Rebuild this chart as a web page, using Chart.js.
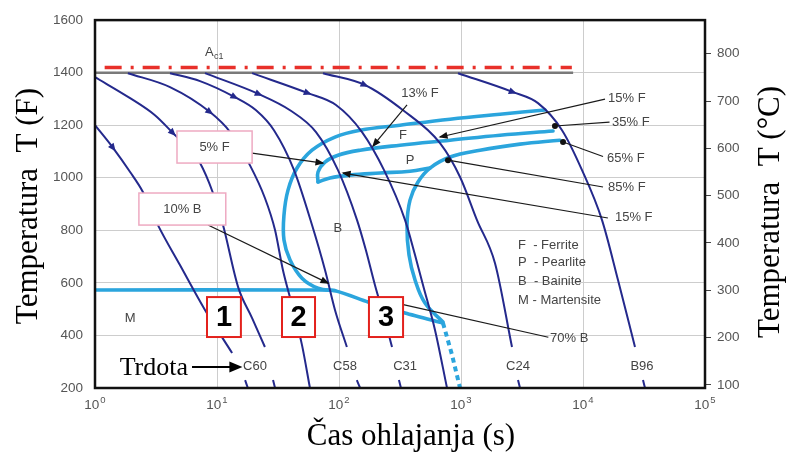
<!DOCTYPE html>
<html><head><meta charset="utf-8">
<script src="https://cdn.jsdelivr.net/npm/chart.js@4.4.1/dist/chart.umd.min.js"></script>
<style>html,body{margin:0;padding:0;background:#fff}</style>
</head><body>
<canvas id="c" width="787" height="452"></canvas>
<script>
// ---------- data (time in s, temperature in °F) ----------
const timeTicks = [1, 10, 100, 1000, 10000, 100000];
const timeTickExp = ['0', '1', '2', '3', '4', '5'];
const tempTicksF = [200, 400, 600, 800, 1000, 1200, 1400, 1600];
const tempTicksC = [100, 200, 300, 400, 500, 600, 700, 800];

// cooling curves (null = gap for hardness label)
const coolA = [[1,1200],[1.41,1113],[1.94,1022],[2.47,946],[3.28,820],[4.97,668],[7.97,497],[13.3,333],[15,null],[17.0,230],[17.9,200]];
const coolB = [[1,1383],[1.94,1303],[3.10,1238],[4.36,1170],[6.0,1105],[7.26,1056],[9.27,942],[11.2,820],[14.9,584],[19.4,466],[24.7,356],[26,null],[28.8,230],[29.9,200]];
const coolC = [[1.86,1398],[4.12,1345],[8.76,1250],[12.8,1174],[18.6,1048],[24.7,923],[29.9,801],[34.7,649],[41.2,516],[49.7,364],[57.8,200]];
const coolD = [[4.12,1398],[7.26,1368],[14.0,1307],[20.9,1257],[29.3,1181],[42.8,1029],[60.1,820],[76.8,649],[92.7,497],[116,356],[125,null],[140,230],[149,200]];
const coolE = [[7.97,1398],[22.1,1318],[39.7,1257],[64.8,1174],[98.1,1029],[140.6,839],[166,725],[197,592],[238,459],[272,356],[290,null],[310,230],[322,200]];
const coolF = [[19.4,1398],[55.7,1322],[94.5,1277],[154.5,1174],[234,1029],[348,839],[420,706],[488,592],[612,421],[768,200]];
const coolG = [[73.9,1398],[163,1353],[335,1257],[673,1132],[982,1003],[1352,839],[1900,675],[2618,356],[2800,null],[2933,230],[3046,200]];
const coolH = [[945,1398],[2668,1326],[4276,1284],[6730,1181],[9817,1029],[14320,839],[19360,611],[26680,356],[28000,null],[31040,230],[32220,200]];

// transformation lines
const ferriteStart = [[4883,1258],[2089,1242],[813,1223],[316,1200],[149,1181],[92.7,1155],[60.1,1105],[45.3,1037],[38.2,953],[35.4,858],[35.4,763],[39.7,687],[49.7,618],[67.3,580],[92.7,571]];
const pearliteStart = [[5680,1178],[2089,1162],[813,1143],[316,1124],[149,1105],[98.1,1086],[76.8,1060],[67.3,1022],[67.3,984]];
const pearliteLower = [[67.3,984],[84.4,999],[123,1010],[217,1018],[382,1025],[557,1037]];
const pearliteFinish = [[6475,1143],[3046,1128],[1432,1105],[813,1079],[557,1037],[444,984],[382,915],[361,820],[375,706],[420,611],[507,523],[712,451]];
const msLine = [[1,573],[60,573],[92.7,570],[173,527],[348,485],[712,447]];
const msDotted = [[712,447],[844,326],[982,200]];
const a1Line = [[1,1400],[8300,1400]];
const ac1Line = [[1.2,1420],[8100,1420]];

// ---------- chart ----------
const SANS = '"Liberation Sans", Arial, sans-serif';
const SERIF = '"Liberation Serif", "Times New Roman", serif';
const NAVY = '#24298c', CYAN = '#2ba5dd';
const toXY = arr => arr.map(([x, y]) => ({x, y}));
const cool = (d, arrowAt) => ({data: toXY(d), borderColor: NAVY, borderWidth: 2, pointRadius: 0, showLine: true, cubicInterpolationMode: 'monotone', spanGaps: false, arrowAt});
const cyan = (d, extra) => Object.assign({data: toXY(d), borderColor: CYAN, borderWidth: 3.6, pointRadius: 0, showLine: true, tension: 0.4, borderCapStyle: 'round'}, extra || {});

const datasets = [
  cool(coolA, 1), cool(coolB, 3), cool(coolC, 2), cool(coolD, 2),
  cool(coolE, 1), cool(coolF, 1), cool(coolG, 1), cool(coolH, 1),
  cyan(ferriteStart), cyan(pearliteStart), cyan(pearliteLower), cyan(pearliteFinish),
  cyan(msLine, {tension: 0.25}), cyan(msDotted, {borderDash: [5, 4], borderWidth: 4, borderCapStyle: 'butt', tension: 0}),
  {data: toXY(ac1Line), borderColor: '#e8302a', borderWidth: 3.5, borderDash: [17, 9, 3, 9], pointRadius: 0, showLine: true},
  {data: toXY(a1Line), borderColor: '#7a7a7a', borderWidth: 2.5, pointRadius: 0, showLine: true}
];

// annotations (positions in data units)
const annLines = [
  {from: [361, 1277], to: [190, 1121], head: 'arrow'},
  {from: [15150, 1299], to: [673, 1155], head: 'arrow'},
  {from: [16500, 1212], to: [5890, 1197], head: 'dot'},
  {from: [14590, 1081], to: [6860, 1136], head: 'dot'},
  {from: [14590, 965], to: [782, 1067], head: 'dot'},
  {from: [16000, 847], to: [108, 1018], head: 'arrow'},
  {from: [19.4, 1094], to: [73.9, 1056], head: 'arrow'},
  {from: [8.44, 820], to: [81.3, 599], head: 'arrow'},
  {from: [5200, 393], to: [316, 520], head: null}
];
const annText = [
  {t: 461, f: 1322, s: '13% F', al: 'center'},
  {t: 16030, f: 1303, s: '15% F', al: 'left'},
  {t: 17300, f: 1212, s: '35% F', al: 'left'},
  {t: 15730, f: 1075, s: '65% F', al: 'left'},
  {t: 16030, f: 965, s: '85% F', al: 'left'},
  {t: 18290, f: 850, s: '15% F', al: 'left'},
  {t: 5370, f: 390, s: '70% B', al: 'left'},
  {t: 1.94, f: 466, s: 'M', al: 'center'},
  {t: 98, f: 809, s: 'B', al: 'center'},
  {t: 335, f: 1162, s: 'F', al: 'center'},
  {t: 382, f: 1067, s: 'P', al: 'center'},
  {t: 20.5, f: 284, s: 'C60', al: 'center'},
  {t: 112, f: 284, s: 'C58', al: 'center'},
  {t: 348, f: 284, s: 'C31', al: 'center'},
  {t: 2933, f: 284, s: 'C24', al: 'center'},
  {t: 30450, f: 284, s: 'B96', al: 'center'},
  {t: 2933, f: 744, s: 'F  - Ferrite', al: 'left'},
  {t: 2933, f: 676, s: 'P  - Pearlite', al: 'left'},
  {t: 2933, f: 605, s: 'B  - Bainite', al: 'left'},
  {t: 2933, f: 535, s: 'M - Martensite', al: 'left'}
];
const annBoxes = [
  {t0: 4.70, t1: 19.4, f0: 1056, f1: 1178, s: '5% F', pink: true},
  {t0: 2.29, t1: 11.8, f0: 820, f1: 942, s: '10% B', pink: true},
  {t0: 8.28, t1: 15.7, f0: 394, f1: 546, s: '1'},
  {t0: 34.1, t1: 63.6, f0: 394, f1: 546, s: '2'},
  {t0: 176, t1: 335, f0: 394, f1: 546, s: '3'}
];

function tri(ctx, x, y, ang, len, hw, color) {
  ctx.save(); ctx.translate(x, y); ctx.rotate(ang);
  ctx.beginPath(); ctx.moveTo(len / 2, 0); ctx.lineTo(-len / 2, -hw); ctx.lineTo(-len / 2, hw); ctx.closePath();
  ctx.fillStyle = color; ctx.fill(); ctx.restore();
}

const deco = {
  id: 'deco',
  afterDatasetsDraw(chart) {
    const {ctx, chartArea: a, scales: {x, y}} = chart;
    const P = (t, f) => [x.getPixelForValue(t), y.getPixelForValue(f)];
    chart.data.datasets.forEach((ds, i) => {
      if (ds.arrowAt == null) return;
      const m = chart.getDatasetMeta(i).data;
      const p = m[ds.arrowAt], p0 = m[ds.arrowAt - 1], p1 = m[ds.arrowAt + 1];
      tri(ctx, p.x, p.y, Math.atan2(p1.y - p0.y, p1.x - p0.x), 8, 3.5, NAVY);
    });
    ctx.save();
    ctx.strokeStyle = '#1a1a1a'; ctx.lineWidth = 1.2;
    annLines.forEach(l => {
      const [x0, y0] = P(...l.from), [x1, y1] = P(...l.to);
      const ang = Math.atan2(y1 - y0, x1 - x0);
      ctx.beginPath(); ctx.moveTo(x0, y0); ctx.lineTo(x1, y1); ctx.stroke();
      if (l.head === 'arrow') tri(ctx, x1 - 3 * Math.cos(ang), y1 - 3 * Math.sin(ang), ang, 9, 3.5, '#111');
      if (l.head === 'dot') { ctx.beginPath(); ctx.arc(x1, y1, 3, 0, Math.PI * 2); ctx.fillStyle = '#111'; ctx.fill(); }
    });
    ctx.restore();
    annBoxes.forEach(b => {
      const [x0, y0] = P(b.t0, b.f1), [x1, y1] = P(b.t1, b.f0);
      ctx.save();
      ctx.fillStyle = '#fff'; ctx.fillRect(x0, y0, x1 - x0, y1 - y0);
      ctx.strokeStyle = b.pink ? '#eeaac2' : '#e3211c'; ctx.lineWidth = b.pink ? 1.5 : 2;
      ctx.strokeRect(x0, y0, x1 - x0, y1 - y0);
      ctx.fillStyle = b.pink ? '#444' : '#000';
      ctx.font = b.pink ? '13px ' + SANS : 'bold 29px ' + SANS;
      ctx.textAlign = 'center'; ctx.textBaseline = 'middle';
      ctx.fillText(b.s, (x0 + x1) / 2, (y0 + y1) / 2 + (b.pink ? 0 : 1));
      ctx.restore();
    });
    ctx.save();
    ctx.fillStyle = '#444'; ctx.font = '13px ' + SANS; ctx.textBaseline = 'middle';
    annText.forEach(tx => { const [px, py] = P(tx.t, tx.f); ctx.textAlign = tx.al; ctx.fillText(tx.s, px, py); });
    const [ax, ay] = P(7.97, 1478);
    ctx.textAlign = 'left'; ctx.font = '13px ' + SANS; ctx.fillText('A', ax, ay);
    ctx.font = '9px ' + SANS; ctx.fillText('c1', ax + 9, ay + 4);
    const [tx0, ty0] = P(5.79, 280), [tx1] = P(6.24, 280), [tx2] = P(16.0, 280);
    ctx.fillStyle = '#000'; ctx.font = '26px ' + SERIF; ctx.textAlign = 'right';
    ctx.fillText('Trdota', tx0, ty0 + 1);
    ctx.strokeStyle = '#000'; ctx.lineWidth = 2;
    ctx.beginPath(); ctx.moveTo(tx1, ty0); ctx.lineTo(tx2 - 8, ty0); ctx.stroke();
    tri(ctx, tx2 - 6, ty0, 0, 13, 5.5, '#000');
    ctx.restore();
    ctx.save(); ctx.strokeStyle = '#111'; ctx.lineWidth = 2.5;
    ctx.strokeRect(a.left, a.top, a.right - a.left, a.bottom - a.top); ctx.restore();
  },
  afterDraw(chart) {
    const ctx = chart.ctx, xs = chart.scales.x, a = chart.chartArea;
    ctx.save();
    // x tick labels: 10 with superscript exponent
    ctx.fillStyle = '#555'; ctx.textBaseline = 'middle'; ctx.textAlign = 'left';
    timeTicks.forEach((v, i) => {
      const px = xs.getPixelForValue(v);
      ctx.font = '13.5px ' + SANS; const w1 = ctx.measureText('10').width;
      ctx.font = '9.5px ' + SANS; const w2 = ctx.measureText(timeTickExp[i]).width;
      const left = px - (w1 + w2 + 1) / 2;
      ctx.font = '13.5px ' + SANS; ctx.fillText('10', left, a.bottom + 17);
      ctx.font = '9.5px ' + SANS; ctx.fillText(timeTickExp[i], left + w1 + 1, a.bottom + 12);
    });
    ctx.fillStyle = '#000'; ctx.font = '31px ' + SERIF; ctx.textAlign = 'center'; ctx.textBaseline = 'middle';
    ctx.fillText('Čas ohlajanja (s)', 411, 437);
    ctx.save(); ctx.translate(29, 206); ctx.rotate(-Math.PI / 2); ctx.fillText('Temperatura  T (F)', 0, 0); ctx.restore();
    ctx.save(); ctx.translate(771, 212); ctx.rotate(-Math.PI / 2); ctx.fillText('Temperatura  T (°C)', 0, 0); ctx.restore();
    ctx.restore();
  }
};

const tickFont = {family: SANS, size: 13.5};
new Chart(document.getElementById('c'), {
  type: 'scatter',
  data: {datasets},
  options: {
    responsive: false, animation: false, devicePixelRatio: 1,
    layout: {padding: {top: 20, left: 0, right: 0, bottom: 0}},
    plugins: {legend: {display: false}, tooltip: {enabled: false}},
    scales: {
      x: {
        type: 'logarithmic', min: 1, max: 100000,
        afterBuildTicks: s => { s.ticks = timeTicks.map(v => ({value: v})); },
        afterFit: s => { s.height = 64; },
        grid: {color: '#cdcdcd', drawTicks: false},
        border: {display: false},
        ticks: {display: true, padding: 8, color: 'rgba(0,0,0,0)', font: tickFont, autoSkip: false, maxRotation: 0, callback: () => ''}
      },
      y: {
        type: 'linear', position: 'left', min: 200, max: 1600,
        afterBuildTicks: s => { s.ticks = tempTicksF.map(v => ({value: v})); },
        afterFit: s => { s.width = 95; },
        grid: {color: '#cdcdcd', drawTicks: false},
        border: {display: false},
        ticks: {padding: 12, color: '#555', font: tickFont, callback: v => String(v)}
      },
      y2: {
        type: 'linear', position: 'right', min: (200 - 32) / 1.8, max: (1600 - 32) / 1.8,
        afterBuildTicks: s => { s.ticks = tempTicksC.map(v => ({value: v})); },
        afterFit: s => { s.width = 82; },
        grid: {drawOnChartArea: false, drawTicks: true, tickLength: 6, color: '#444'},
        border: {display: false},
        ticks: {padding: 6, color: '#555', font: tickFont, callback: v => String(v)}
      }
    }
  },
  plugins: [deco]
});
</script>
</body></html>
